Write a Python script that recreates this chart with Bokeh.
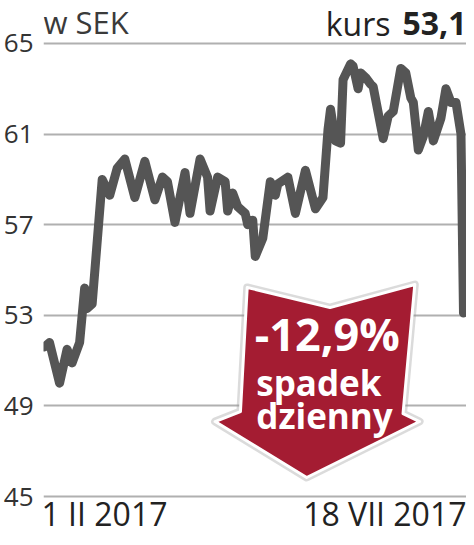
import pandas as pd
from bokeh.plotting import figure
from bokeh.models import Label, FixedTicker, Range1d
from bokeh.embed import file_html
from bokeh.resources import INLINE

# ---- data ----
start_date = "2017-02-01"
dates = [
    "2017-02-01", "2017-02-03", "2017-02-07", "2017-02-10", "2017-02-12", "2017-02-15",
    "2017-02-17", "2017-02-18", "2017-02-20", "2017-02-24", "2017-02-27", "2017-03-02",
    "2017-03-05", "2017-03-09", "2017-03-13", "2017-03-17", "2017-03-20", "2017-03-22",
    "2017-03-25", "2017-03-29", "2017-03-31", "2017-04-04", "2017-04-07", "2017-04-08",
    "2017-04-11", "2017-04-14", "2017-04-15", "2017-04-17", "2017-04-19", "2017-04-22",
    "2017-04-23", "2017-04-25", "2017-04-26", "2017-04-29", "2017-05-02", "2017-05-04",
    "2017-05-05", "2017-05-09", "2017-05-12", "2017-05-16", "2017-05-20", "2017-05-23",
    "2017-05-25", "2017-05-26", "2017-05-28", "2017-05-30", "2017-05-31", "2017-06-03",
    "2017-06-04", "2017-06-06", "2017-06-07", "2017-06-09", "2017-06-11", "2017-06-12",
    "2017-06-16", "2017-06-18", "2017-06-20", "2017-06-23", "2017-06-25", "2017-06-27",
    "2017-06-28", "2017-06-30", "2017-07-02", "2017-07-04", "2017-07-06", "2017-07-09",
    "2017-07-11", "2017-07-13", "2017-07-15", "2017-07-17", "2017-07-18",
]
prices = [
    51.6, 51.8, 50.0, 51.5, 50.9, 51.8, 54.2, 53.3, 53.5, 59.0,
    58.3, 59.5, 59.9, 58.2, 59.8, 58.1, 59.1, 58.9, 57.1, 59.3,
    57.5, 59.9, 59.1, 57.6, 59.1, 58.9, 57.6, 58.4, 57.8, 57.5,
    57.0, 57.2, 55.6, 56.4, 58.9, 58.3, 58.8, 59.1, 57.5, 59.4,
    57.7, 58.2, 61.2, 62.1, 60.7, 60.6, 63.4, 64.1, 64.0, 63.0,
    63.7, 63.5, 63.2, 63.1, 60.8, 61.8, 62.0, 63.9, 63.7, 62.6,
    62.4, 60.3, 60.9, 62.0, 60.7, 61.7, 63.0, 62.4, 62.4, 61.0, 53.1,
]
y_ticks = [45, 49, 53, 57, 61, 65]
x_tick_labels = ["1 II 2017", "18 VII 2017"]
title_left = "w SEK"
title_kurs = "kurs"
title_value = "53,1"
badge_lines = ["-12,9%", "spadek", "dzienny"]

# arrow badge shape (days, SEK)
arrow_x = [80.8, 113.8, 147.6, 142.9, 149.5, 104.5, 68.0, 78.1]
arrow_y = [54.23, 53.34, 54.36, 48.66, 48.31, 45.84, 48.31, 48.75]

days = [(pd.Timestamp(d) - pd.Timestamp(start_date)).days for d in dates]

FONT = "Open Sans"
RED = "#a41c32"
X0, X1 = -0.4, 168.2
Y0, Y1 = 43.19, 66.898

p = figure(width=466, height=537, output_backend="svg", toolbar_location=None,
           x_range=Range1d(X0, X1), y_range=Range1d(Y0, Y1),
           min_border_top=0, min_border_bottom=0, min_border_left=0,
           min_border_right=0)
p.background_fill_color = "white"
p.border_fill_color = "white"
p.outline_line_color = None
p.xaxis.visible = False
p.xgrid.visible = False
p.ygrid.ticker = FixedTicker(ticks=y_ticks)
p.ygrid.grid_line_color = "#b0b0b0"
p.ygrid.grid_line_width = 2
p.yaxis.ticker = FixedTicker(ticks=y_ticks)
p.yaxis.axis_line_color = None
p.yaxis.major_tick_line_color = None
p.yaxis.minor_tick_line_color = None
p.yaxis.major_label_text_font = FONT
p.yaxis.major_label_text_font_size = "26px"
p.yaxis.major_label_text_color = "#333333"
p.yaxis.major_label_standoff = 4

# arrow badge
p.patch(arrow_x, arrow_y, fill_color=None, line_color="#999999", line_alpha=0.35,
        line_width=8, line_join="round")
p.patch(arrow_x, arrow_y, fill_color=RED, line_color="white", line_width=3,
        line_join="round")

# price line
p.line(days, prices, line_width=9, line_color="#555555", line_join="round",
       line_cap="round")

# badge text
badge_x = 83.8
p.add_layout(Label(x=badge_x, y=52.20, text=badge_lines[0], text_font=FONT,
                   text_font_style="bold", text_font_size="45px", text_color="white",
                   text_baseline="alphabetic", text_align="left"))
p.add_layout(Label(x=badge_x + 0.6, y=50.03, text=badge_lines[1], text_font=FONT,
                   text_font_style="bold", text_font_size="35px", text_color="white",
                   text_baseline="alphabetic", text_align="left"))
p.add_layout(Label(x=badge_x + 0.6, y=48.58, text=badge_lines[2], text_font=FONT,
                   text_font_style="bold", text_font_size="35px", text_color="white",
                   text_baseline="alphabetic", text_align="left"))

# titles
p.add_layout(Label(x=X0, y=65.97, text=title_left, text_font=FONT,
                   text_font_size="31px", text_color="#3a3a3a",
                   text_baseline="alphabetic", text_align="left"))
p.add_layout(Label(x=X1, y=65.88, text=title_value, text_font=FONT,
                   text_font_style="bold", text_font_size="32px", text_color="#222222",
                   text_baseline="alphabetic", text_align="right"))
p.add_layout(Label(x=X1, y=65.88, x_offset=-76, text=title_kurs, text_font=FONT,
                   text_font_size="32px", text_color="#222222",
                   text_baseline="alphabetic", text_align="right"))

# x labels (first / last date)
p.add_layout(Label(x=days[0], y=44.27, x_offset=-3, text=x_tick_labels[0], text_font=FONT,
                   text_font_size="32px", text_color="#222222",
                   text_baseline="alphabetic", text_align="left"))
p.add_layout(Label(x=X1, y=44.27, text=x_tick_labels[1], text_font=FONT,
                   text_font_size="32px", text_color="#222222",
                   text_baseline="alphabetic", text_align="right"))

open("out.html", "w").write(file_html(p, INLINE))
